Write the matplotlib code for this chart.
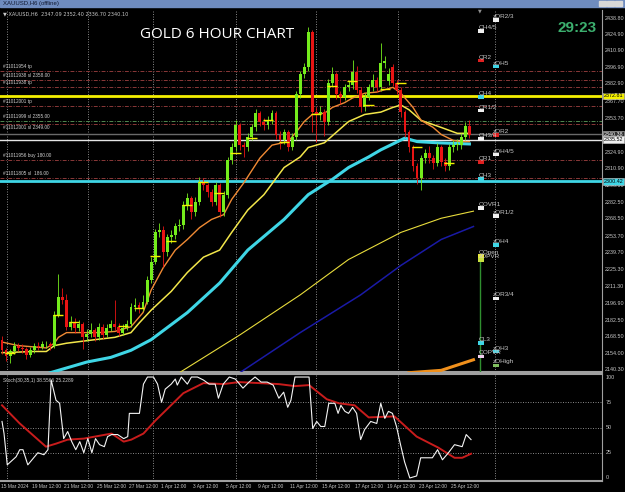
import matplotlib
matplotlib.use("Agg")
import matplotlib.pyplot as plt
from matplotlib.patches import Rectangle

# XAUUSD 6H bars (15 Mar - 26 Apr 2024)
opens = [2166, 2157, 2152, 2156, 2161, 2159, 2158, 2153, 2157, 2161,
         2160, 2162, 2162, 2161, 2187, 2202, 2200, 2177, 2181, 2176,
         2179, 2168, 2171, 2174, 2168, 2177, 2170, 2176, 2179, 2177,
         2172, 2176, 2179, 2194, 2195, 2193, 2198, 2217, 2232, 2257,
         2259, 2240, 2253, 2255, 2262, 2263, 2280, 2286, 2274, 2283,
         2300, 2297, 2291, 2283, 2297, 2274, 2289, 2318, 2329, 2348,
         2331, 2329, 2338, 2346, 2358, 2351, 2348, 2352, 2358, 2340,
         2335, 2342, 2329, 2338, 2374, 2391, 2397, 2427, 2359, 2357,
         2359, 2351, 2384, 2391, 2374, 2372, 2380, 2382, 2393, 2378,
         2363, 2372, 2380, 2386, 2380, 2401, 2385, 2397, 2384, 2378,
         2359, 2342, 2329, 2313, 2303, 2320, 2324, 2320, 2316, 2329,
         2317, 2313, 2329, 2331, 2331, 2338, 2347]
highs = [2169, 2159, 2158, 2164, 2163, 2162, 2160, 2160, 2163, 2164,
         2165, 2165, 2164, 2190, 2222, 2210, 2205, 2186, 2184, 2183,
         2181, 2175, 2180, 2176, 2180, 2179, 2179, 2183, 2200, 2180,
         2179, 2183, 2197, 2201, 2198, 2204, 2220, 2236, 2260, 2265,
         2262, 2256, 2259, 2265, 2268, 2284, 2290, 2288, 2287, 2304,
         2303, 2299, 2294, 2300, 2299, 2292, 2321, 2333, 2352, 2350,
         2334, 2341, 2349, 2362, 2360, 2354, 2356, 2361, 2360, 2343,
         2345, 2344, 2341, 2377, 2394, 2401, 2431, 2429, 2363, 2364,
         2362, 2387, 2397, 2393, 2377, 2383, 2386, 2403, 2398, 2380,
         2375, 2383, 2391, 2389, 2418, 2407, 2396, 2400, 2386, 2380,
         2361, 2344, 2331, 2316, 2323, 2328, 2330, 2323, 2333, 2331,
         2320, 2332, 2335, 2336, 2341, 2351, 2352]
lows = [2154, 2148, 2146, 2154, 2156, 2155, 2150, 2151, 2155, 2157,
        2158, 2159, 2157, 2159, 2185, 2196, 2174, 2174, 2172, 2173,
        2158, 2165, 2168, 2165, 2166, 2167, 2168, 2173, 2174, 2169,
        2170, 2174, 2177, 2190, 2189, 2190, 2196, 2214, 2230, 2253,
        2228, 2237, 2248, 2251, 2258, 2260, 2276, 2268, 2271, 2280,
        2293, 2287, 2279, 2280, 2270, 2271, 2286, 2315, 2326, 2327,
        2321, 2326, 2335, 2343, 2347, 2344, 2345, 2349, 2336, 2328,
        2332, 2326, 2327, 2335, 2371, 2388, 2394, 2342, 2334, 2352,
        2339, 2348, 2381, 2370, 2366, 2369, 2377, 2379, 2375, 2359,
        2360, 2369, 2377, 2376, 2377, 2396, 2382, 2381, 2374, 2355,
        2338, 2325, 2309, 2298, 2293, 2316, 2316, 2311, 2313, 2313,
        2309, 2310, 2325, 2327, 2328, 2335, 2337]
closes = [2157, 2152, 2156, 2161, 2159, 2158, 2153, 2157, 2161, 2160,
          2162, 2162, 2161, 2187, 2202, 2200, 2177, 2181, 2176, 2179,
          2168, 2171, 2174, 2168, 2177, 2170, 2176, 2179, 2177, 2172,
          2176, 2179, 2194, 2195, 2193, 2198, 2217, 2232, 2257, 2259,
          2240, 2253, 2255, 2262, 2263, 2280, 2286, 2274, 2283, 2300,
          2297, 2291, 2283, 2297, 2274, 2289, 2318, 2329, 2348, 2331,
          2329, 2338, 2346, 2358, 2351, 2348, 2352, 2358, 2340, 2335,
          2342, 2329, 2338, 2374, 2391, 2397, 2427, 2359, 2357, 2359,
          2351, 2384, 2391, 2374, 2372, 2380, 2382, 2393, 2378, 2363,
          2372, 2380, 2386, 2380, 2401, 2402, 2391, 2384, 2378, 2359,
          2342, 2329, 2313, 2303, 2320, 2324, 2320, 2316, 2329, 2317,
          2313, 2329, 2331, 2331, 2338, 2347, 2340]

# moving averages (sampled at bar index)
ma_fast_idx = [0, 4, 11, 13, 14, 16, 24, 28, 32, 35, 37, 40, 43, 46, 49, 52, 55, 57, 60, 64,
               67, 71, 73, 75, 77, 80, 82, 85, 87, 90, 93, 97, 99, 102, 104, 107, 109, 112, 114, 116]
ma_fast = [2164, 2161, 2159, 2163, 2168, 2172, 2172, 2173, 2177, 2189, 2208, 2227, 2242, 2251, 2261,
           2268, 2272, 2285, 2299, 2320, 2331, 2334, 2342, 2351, 2357, 2358, 2363, 2367, 2371, 2375,
           2376, 2380, 2375, 2363, 2352, 2346, 2340, 2335, 2334, 2334]
ma_mid_idx = [0, 8, 11, 13, 16, 23, 28, 32, 34, 37, 42, 46, 50, 54, 57, 61, 65, 70, 74, 76,
              80, 83, 86, 90, 94, 97, 99, 101, 104, 109, 113, 116]
ma_mid = [2155, 2156, 2156, 2161, 2163, 2166, 2168, 2172, 2180, 2191, 2207, 2223, 2236, 2242, 2257,
          2276, 2289, 2312, 2321, 2329, 2333, 2342, 2351, 2357, 2359, 2363, 2365, 2361, 2352, 2346,
          2341, 2341]
ma_slow_idx = [12, 16, 21, 27, 32, 37, 46, 54, 61, 70, 76, 82, 86, 91, 94, 100, 103, 108, 116]
ma_slow = [2138, 2142, 2147, 2151, 2157, 2166, 2189, 2214, 2242, 2268, 2289, 2302, 2312, 2321,
           2327, 2337, 2334, 2333, 2332]
ma_long_idx = [44, 59, 74, 86, 99, 109, 117]
ma_long = [2138, 2170, 2204, 2234, 2257, 2269, 2275]
ma_blue_idx = [59, 74, 89, 99, 109, 117]
ma_blue = [2138, 2172, 2204, 2229, 2251, 2262]
ma_orange2_idx = [101, 109, 117]
ma_orange2 = [2138, 2140, 2149]

# short yellow daily-open ticks
day_open_idx = [1, 13, 17, 29, 33, 37, 41, 45, 49, 53, 57, 61, 65, 69, 77, 81, 86, 90, 94, 98, 102, 110]
day_open = [2155, 2187, 2181, 2178, 2193, 2237, 2250, 2280, 2300, 2290, 2324, 2337, 2352, 2334,
            2357, 2381, 2385, 2365, 2379, 2384, 2329, 2316]

# order lines (dash-dot) and their labels
order_levels = [2393.9, 2386.3, 2380.3, 2364.2, 2351.5, 2349.0, 2318.4, 2303.2]
order_labels = ["#11011954 tp", "#11011938 sl 2358.00", "#11011938 tp", "#11012001 tp",
                "#11011999 sl 2355.00", "#11012001 sl 2349.00", "#11011956 buy 180.00",
                "#11011805 sl  186.00"]

# pivot markers: label, column, price, colour
pivots = [("zOR2/3", "B", 2437.1, "white"), ("QH4/5", "A", 2427.8, "white"),
          ("QR2", "A", 2402.4, "red"), ("zOH5", "B", 2397.3, "cyan"),
          ("QH4", "A", 2371.8, "cyan"), ("QR1/2", "A", 2360.0, "white"),
          ("zOR2", "B", 2339.6, "red"), ("QH3/4", "A", 2336.2, "white"),
          ("zOH4/5", "B", 2322.7, "white"), ("QR1", "A", 2316.7, "red"),
          ("QH3", "A", 2302.3, "cyan"), ("QOVR1", "A", 2277.7, "white"),
          ("zOR1/2", "B", 2270.9, "white"), ("zOH4", "B", 2246.3, "cyan"),
          ("QOpen", "A", 2237.0, "yellow"), ("zOPVR", "A", 2233.6, "yg"),
          ("zOR3/4", "B", 2200.6, "white"), ("QL3", "A", 2163.2, "cyan"),
          ("zOH3", "B", 2155.6, "cyan"), ("QOPVR", "A", 2151.4, "pink"),
          ("zOHigh", "B", 2144.4, "green")]

price_ticks = [2438.80, 2424.90, 2410.90, 2396.90, 2382.90, 2367.70, 2353.70, 2324.90,
               2310.90, 2296.50, 2282.50, 2268.50, 2253.70, 2239.70, 2225.30, 2211.30,
               2196.90, 2182.50, 2168.50, 2154.00, 2140.30]
date_labels = ["15 Mar 2024", "19 Mar 12:00", "21 Mar 12:00", "25 Mar 12:00", "27 Mar 12:00",
               "1 Apr 12:00", "3 Apr 12:00", "5 Apr 12:00", "9 Apr 12:00", "11 Apr 12:00",
               "15 Apr 12:00", "17 Apr 12:00", "19 Apr 12:00", "23 Apr 12:00", "25 Apr 12:00"]
week_grid = [1.2, 21.3, 37.5, 58.1, 77.9, 98.3, 122.3]

# stochastic (main and signal)
stoch_idx = [0, 0.5, 1.3, 3.5, 4.4, 5.2, 6.4, 8.9, 10.4, 11.4,
             12.2, 13.4, 14.3, 15.3, 16.3, 17.3, 18.3, 19.3, 20.3, 21.3,
             22.3, 23.2, 24.2, 25.4, 26.2, 27.2, 28.7, 30.2, 31.2, 31.6,
             34.1, 35.1, 36.1, 37.6, 38.6, 39.6, 40.5, 42.0, 43.0, 43.5,
             44.5, 46.0, 47.0, 48.5, 50.0, 51.4, 52.9, 53.7, 54.9, 56.4,
             57.9, 59.8, 61.3, 62.8, 64.3, 65.8, 67.3, 68.7, 69.9, 70.9,
             71.7, 72.7, 74.2, 76.2, 77.1, 78.1, 79.1, 80.1, 81.1, 82.6,
             83.4, 84.1, 85.1, 86.0, 87.0, 88.0, 89.0, 90.0, 91.5, 93.0,
             94.0, 95.0, 95.9, 96.9, 97.9, 98.9, 99.9, 101.2, 102.9, 103.9,
             106.8, 108.1, 109.3, 110.8, 112.3, 114.2, 115.2, 116.4]
stoch_main = [56, 44, 13, 21, 28, 28, 13, 25, 23, 28,
              97, 77, 74, 39, 46, 36, 28, 36, 25, 39,
              25, 39, 33, 31, 41, 43, 43, 39, 41, 64,
              64, 93, 100, 100, 93, 75, 88, 93, 98, 92,
              100, 93, 100, 100, 97, 93, 93, 79, 93, 100,
              98, 89, 95, 100, 95, 95, 92, 79, 85, 70,
              77, 100, 100, 100, 49, 56, 51, 51, 74, 74,
              64, 72, 66, 64, 70, 64, 38, 48, 56, 54,
              74, 59, 66, 64, 51, 33, 16, 0, 2, 20,
              20, 28, 18, 25, 33, 31, 43, 38]
signal_idx = [0, 4.4, 10.9, 13.4, 16.3, 20.3, 27.2, 30.2, 32.1, 35.1, 38.1, 45.0, 50.0, 54.9,
              58.8, 68.7, 72.7, 76.2, 80.6, 83.6, 87.5, 91.0, 97.4, 102.9, 108.3, 112.3, 114.2, 116.4]
stoch_signal = [72, 54, 31, 34, 38, 39, 44, 36, 38, 44, 57, 84, 94, 93,
                95, 93, 91, 92, 78, 74, 72, 60, 61, 41, 30, 20, 20, 24]

W, H = 625, 492
fig = plt.figure(figsize=(W / 100, H / 100), dpi=100, facecolor="black")


def px_axes(x0, y0, x1, y1):
    a = fig.add_axes([x0 / W, 1 - y1 / H, (x1 - x0) / W, (y1 - y0) / H])
    a.set_facecolor("black")
    a.set_xticks([])
    a.set_yticks([])
    return a


def ftext(x, y, s, **kw):
    fig.text(x / W, 1 - y / H, s, **kw)


ax = px_axes(0, 10, 602, 372)
ax2 = px_axes(0, 374, 602, 481)
XMAX = 148.9
for a in (ax, ax2):
    a.set_xlim(-0.5, XMAX)
    for s in a.spines.values():
        s.set_visible(False)
    a.spines["right"].set_visible(True)
    a.spines["right"].set_color("#a0a0a0")
    a.spines["bottom"].set_visible(True)
    a.spines["bottom"].set_color("#a0a0a0")
    a.spines["bottom"].set_linewidth(1.5)
    for g in week_grid:
        a.axvline(g, color="#9a9a9a", lw=0.6, ls=(0, (1.2, 1.8)), zorder=1)
ax2.spines["top"].set_visible(True)
ax2.spines["top"].set_color("#a0a0a0")
ax2.spines["top"].set_linewidth(1.5)
ax.set_ylim(2138.6, 2445.6)
ax2.set_ylim(-3, 103)

# order lines + labels
for lv, lab in zip(order_levels, order_labels):
    col = "#4f8a4f" if lv == 2351.5 else "#8a3838"
    ax.axhline(lv, color=col, lw=0.7, ls=(0, (4, 1.5, 1, 1.5)), zorder=2)
    if lv == 2349.0:
        ax.text(0.3, lv - 1.0, lab, color="#d0d0d0", fontsize=3.4, va="top",
                family="Liberation Sans", zorder=6)
    else:
        ax.text(0.3, lv + 1.3, lab, color="#d0d0d0", fontsize=3.4, va="bottom",
                family="Liberation Sans", zorder=6)

# level lines
ax.axhline(2372.81, color="#f4f000", lw=2.0, zorder=3)
ax.axhline(2340.38, color="#6a6a6a", lw=1.0, zorder=3)
ax.axhline(2335.52, color="#e6e6e6", lw=1.0, zorder=3)
ax.axhline(2300.42, color="#3fd6e6", lw=2.0, zorder=3)

# moving averages
ax.plot(ma_long_idx, ma_long, color="#e8dc3c", lw=0.8, zorder=4)
ax.plot(ma_blue_idx, ma_blue, color="#1a1aa6", lw=1.1, zorder=4)
ax.plot(ma_orange2_idx, ma_orange2, color="#f0901c", lw=2.2, zorder=4)
ax.plot(ma_slow_idx, ma_slow, color="#3fd6e6", lw=2.2, zorder=4)
ax.plot(ma_mid_idx, ma_mid, color="#f2e64a", lw=1.1, zorder=5)
ax.plot(ma_fast_idx, ma_fast, color="#f08a34", lw=1.0, zorder=5)

# candles
for i, (o, h, l, c) in enumerate(zip(opens, highs, lows, closes)):
    col = "#74ec1c" if c >= o else "#e81414"
    ax.vlines(i, l, h, color=col, lw=0.6, zorder=6)
    ax.bar(i, max(abs(c - o), 0.7), bottom=min(o, c), width=0.72, color=col,
           linewidth=0, zorder=7)

for i0, p in zip(day_open_idx, day_open):
    ax.hlines(p, i0 - 0.3, i0 + 2.2, color="#f4f000", lw=1.0, zorder=8)

# pivot markers
pcol = {"white": "#f0f0f0", "red": "#e02020", "cyan": "#3fd6e6", "yellow": "#e8e83a",
        "yg": "#c8e040", "pink": "#f0d0f0", "green": "#80c060"}
colx = {"A": 118.6, "B": 122.3}
ax.vlines(colx["A"] + 0.1, 2138.6, 2233.6, color="#2f8f2f", lw=1.0, zorder=3)
for lab, cc, p, k in pivots:
    x0 = colx[cc]
    ax.add_patch(Rectangle((x0 - 0.4, p - 1.3), 1.5, 2.6, color=pcol[k], lw=0, zorder=9))
    ax.text(x0 - 0.4, p + 1.2, lab, color="#c8c8c8", fontsize=4.6, va="bottom",
            family="Liberation Sans", zorder=9)

# right price axis
ytr = ax.get_yaxis_transform()
for p in price_ticks:
    ax.text(1.004, p, "%.2f" % p, transform=ytr, color="#c8c8c8", fontsize=3.9,
            va="center", ha="left", family="Liberation Sans", clip_on=False)
for p, fc, tc in [(2372.81, "#f4f000", "black"), (2340.38, "#303030", "white"),
                  (2335.52, "#f0f0f0", "black"), (2300.42, "#3fd6e6", "black")]:
    ax.text(1.003, p, "%.2f" % p, transform=ytr, color=tc, fontsize=3.9, va="center",
            ha="left", family="Liberation Sans", clip_on=False,
            bbox=dict(boxstyle="square,pad=0.15", fc=fc, ec="#d0d0d0", lw=0.4))

# stochastic
for lv in (25, 50, 75):
    ax2.axhline(lv, color="#9a9a9a", lw=0.6, ls=(0, (1.2, 1.8)), zorder=1)
ax2.plot(signal_idx, stoch_signal, color="#c81c1c", lw=1.4, zorder=3)
ax2.plot(stoch_idx, stoch_main, color="#f4f4f4", lw=0.8, zorder=4)
ax2.text(0.3, 99, "Stoch(30,35,1) 38.5566 25.2289", color="#d0d0d0", fontsize=3.5,
         va="top", family="Liberation Sans")
ytr2 = ax2.get_yaxis_transform()
for v in (100, 75, 50, 25, 0):
    ax2.text(1.006, v, str(v), transform=ytr2, color="#c8c8c8", fontsize=3.9,
             va="center", ha="left", family="Liberation Sans", clip_on=False)

# date axis
xtr = ax2.get_xaxis_transform()
for k, lab in enumerate(date_labels):
    xi = 8 * k - (0.3 if k == 0 else 0.5)
    ax2.text(xi, -0.05, lab, transform=xtr, color="#c8c8c8", fontsize=3.5, va="center",
             ha="left", family="Liberation Sans", clip_on=False)

# window chrome and headings
fig.patches.append(Rectangle((0, 1 - 7 / H), 1, 7 / H, transform=fig.transFigure,
                             color="#6f8cbf", zorder=0))
ftext(3, 3.5, "XAUUSD,H6 (offline)", color="#101830", fontsize=4.3, va="center",
      family="Liberation Sans")
for bx in (599, 607, 615):
    fig.patches.append(Rectangle((bx / W, 1 - 6 / H), 7 / W, 5 / H, transform=fig.transFigure,
                                 color="#d8d8d8", zorder=1))
ftext(3, 14, "\u25bc XAUUSD,H6  2347.09 2352.40 2336.70 2340.10", color="#c8c8c8",
      fontsize=3.6, va="center", family="DejaVu Sans")
ftext(480, 11, "\u25bc", color="#909090", fontsize=3.5, va="center", ha="center")
ftext(140, 34, "GOLD 6 HOUR CHART", color="white", fontsize=11, va="center",
      family="Open Sans")
ftext(558, 27.5, "29:23", color="#3caf6e", fontsize=11, va="center", fontweight="bold",
      family="Liberation Sans")

fig.savefig("out.png", dpi=100, facecolor="black")
